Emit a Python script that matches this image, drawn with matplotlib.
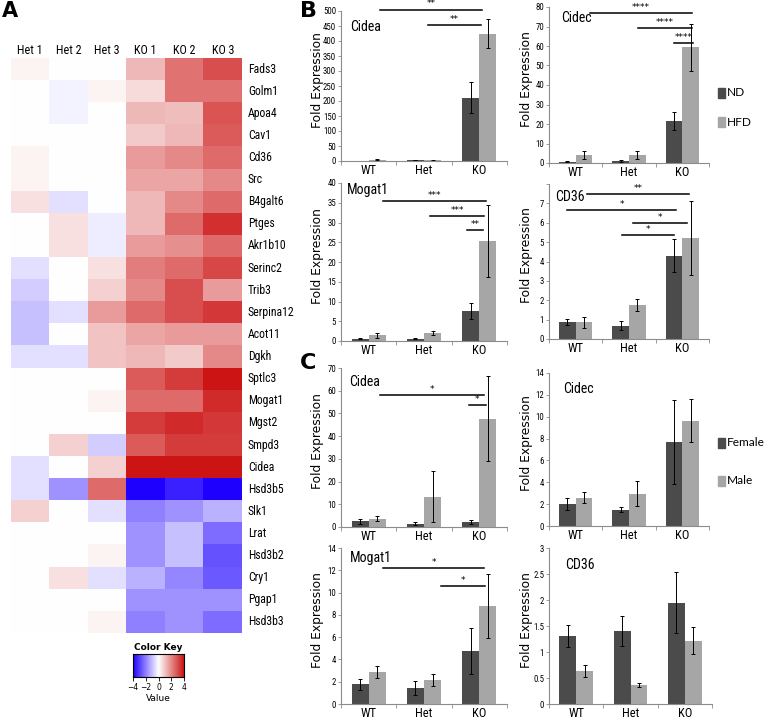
import numpy as np
import matplotlib
matplotlib.use("Agg")
import matplotlib.pyplot as plt
from matplotlib.colors import LinearSegmentedColormap

NARROW = ["Liberation Sans Narrow", "Roboto Condensed", "Liberation Sans", "DejaVu Sans"]
SOFT = ["Lato", "DejaVu Sans"]

# ---------------- data ----------------
samples = ["Het 1", "Het 2", "Het 3", "KO 1", "KO 2", "KO 3"]
genes = ["Fads3", "Golm1", "Apoa4", "Cav1", "Cd36", "Src", "B4galt6", "Ptges",
         "Akr1b10", "Serinc2", "Trib3", "Serpina12", "Acot11", "Dgkh", "Sptlc3",
         "Mogat1", "Mgst2", "Smpd3", "Cidea", "Hsd3b5", "Slk1", "Lrat", "Hsd3b2",
         "Cry1", "Pgap1", "Hsd3b3"]
heat = np.array([
    [0.2, 0.0, 0.0, 1.2, 2.4, 3.0],
    [0.0, -0.2, 0.2, 0.6, 2.4, 2.4],
    [0.0, -0.2, 0.0, 1.2, 1.1, 2.9],
    [0.0, 0.0, 0.0, 0.9, 1.2, 2.8],
    [0.2, 0.0, 0.0, 1.7, 2.0, 2.5],
    [0.2, 0.0, 0.0, 1.5, 1.5, 2.0],
    [0.5, -0.5, 0.0, 1.2, 2.0, 2.5],
    [0.0, 0.5, -0.3, 1.2, 2.5, 3.5],
    [0.0, 0.5, -0.3, 1.7, 1.9, 2.5],
    [-0.5, 0.0, 0.5, 2.2, 2.5, 3.1],
    [-0.8, 0.0, 0.8, 2.0, 3.0, 1.7],
    [-1.0, -0.5, 1.7, 2.5, 3.0, 3.4],
    [-1.0, 0.0, 1.0, 1.5, 1.7, 1.7],
    [-0.5, -0.5, 1.0, 1.2, 0.9, 2.0],
    [0.0, 0.0, 0.0, 2.8, 3.3, 4.0],
    [0.0, 0.0, 0.2, 2.5, 2.5, 3.6],
    [0.0, 0.0, 0.0, 3.3, 3.6, 3.4],
    [0.0, 0.8, -0.8, 2.8, 3.3, 3.3],
    [-0.5, 0.0, 0.8, 4.5, 4.5, 4.5],
    [-0.5, -1.7, 2.5, -4.5, -3.5, -4.5],
    [0.8, 0.0, -0.5, -2.0, -1.7, -1.2],
    [0.0, 0.0, 0.0, -1.7, -1.0, -2.3],
    [0.0, 0.0, 0.2, -1.7, -1.0, -2.7],
    [0.0, 0.5, -0.5, -1.2, -1.9, -2.6],
    [0.0, 0.0, 0.0, -1.7, -1.7, -1.7],
    [0.0, 0.0, 0.2, -2.0, -1.7, -2.3],
])

groups = ["WT", "Het", "KO"]

# panel B: ND vs HFD
b_cidea_nd, b_cidea_nd_err = [1.0, 3.0, 211], [0.5, 1.0, 52]
b_cidea_hfd, b_cidea_hfd_err = [5.0, 2.0, 424], [2.0, 1.0, 48]
b_cidec_nd, b_cidec_nd_err = [0.7, 0.8, 21.5], [0.3, 0.5, 4.5]
b_cidec_hfd, b_cidec_hfd_err = [4.0, 4.2, 59.3], [2.2, 2.0, 12.0]
b_mogat1_nd, b_mogat1_nd_err = [0.6, 0.6, 7.6], [0.2, 0.2, 2.1]
b_mogat1_hfd, b_mogat1_hfd_err = [1.4, 2.0, 25.3], [0.6, 0.5, 9.2]
b_cd36_nd, b_cd36_nd_err = [0.86, 0.69, 4.3], [0.15, 0.25, 0.86]
b_cd36_hfd, b_cd36_hfd_err = [0.86, 1.77, 5.21], [0.3, 0.3, 1.93]

# panel C: female vs male
c_cidea_f, c_cidea_f_err = [2.5, 1.5, 2.2], [1.0, 0.6, 0.8]
c_cidea_m, c_cidea_m_err = [3.7, 13.3, 47.6], [1.2, 11.3, 18.7]
c_cidec_f, c_cidec_f_err = [2.0, 1.5, 7.7], [0.52, 0.2, 3.85]
c_cidec_m, c_cidec_m_err = [2.57, 2.97, 9.63], [0.5, 1.18, 1.97]
c_mogat1_f, c_mogat1_f_err = [1.78, 1.42, 4.75], [0.5, 0.6, 2.07]
c_mogat1_m, c_mogat1_m_err = [2.85, 2.14, 8.81], [0.55, 0.56, 2.9]
c_cd36_f, c_cd36_f_err = [1.3, 1.4, 1.95], [0.21, 0.29, 0.59]
c_cd36_m, c_cd36_m_err = [0.63, 0.37, 1.22], [0.12, 0.04, 0.26]

# significance brackets: (x start, x end, y, stars)
sig_b_cidea = [(0.2, 2.05, 505, "**"), (1.07, 2.03, 454, "**")]
sig_b_cidec = [(0.27, 2.18, 77, "****"), (1.17, 2.18, 69.2, "****"), (1.85, 2.2, 61.5, "****")]
sig_b_mogat1 = [(0.26, 2.12, 35.5, "***"), (1.11, 2.09, 31.6, "***"), (1.78, 2.07, 28.1, "**")]
sig_b_cd36 = [(0.21, 2.13, 7.46, "**"), (-0.16, 1.88, 6.65, "*"), (1.08, 2.09, 5.97, "*"),
              (0.87, 1.85, 5.35, "*")]
sig_c_cidea = [(0.2, 2.09, 58.2, "*"), (1.81, 2.12, 53.5, "*")]
sig_c_mogat1 = [(0.26, 2.09, 12.2, "*"), (1.31, 2.1, 10.6, "*")]

DARK = "#4b4b4b"
LIGHT = "#a6a6a6"
AXC = "#8c8c8c"

W, H = 767, 721
fig = plt.figure(figsize=(W / 100, H / 100), dpi=100)


def rect(x0, y0, x1, y1):
    return [x0 / W, 1 - y1 / H, (x1 - x0) / W, (y1 - y0) / H]


# ---------------- A: heatmap ----------------
cmap = LinearSegmentedColormap.from_list("bwr_key", [(0.12, 0.0, 1.0), (1, 1, 1), (0.8, 0.08, 0.08)])
axh = fig.add_axes(rect(11, 58, 242, 633))
axh.imshow(heat, cmap=cmap, vmin=-4, vmax=4, aspect="auto", interpolation="nearest")
axh.axis("off")
for j, s in enumerate(samples):
    axh.text(j, -0.55, s, ha="center", va="bottom", fontsize=8.7, family=NARROW)
for i, g in enumerate(genes):
    axh.text(5.65, i, g, ha="left", va="center", fontsize=8.5, family=NARROW)
fig.text(2 / W, 1 - 11 / H, "A", fontsize=15, fontweight="bold", va="center", ha="left")

axk = fig.add_axes(rect(133, 654, 184, 677))
axk.imshow(np.linspace(-4, 4, 256)[None, :], cmap=cmap, aspect="auto",
           extent=[-4, 4, 0, 1])
axk.set_yticks([])
axk.set_xticks([-4, -2, 0, 2, 4])
axk.set_xticklabels(["\u22124", "\u22122", "0", "2", "4"], fontsize=5.5)
axk.tick_params(axis="x", length=3, width=0.6, pad=1.5)
axk.set_xlabel("Value", fontsize=6.5, labelpad=1)
axk.set_title("Color Key", fontsize=6.5, fontweight="bold", pad=3)
for sp in axk.spines.values():
    sp.set_linewidth(0.8)


# ---------------- B / C: bar charts ----------------
def bar_panel(r, title, tpos, a, a_err, b, b_err, ymax, step, sig=(), labels=None):
    ax = fig.add_axes(rect(*r))
    x = np.arange(len(groups))
    ax.bar(x - 0.155, a, 0.31, color=DARK, yerr=a_err, ecolor="black",
           error_kw=dict(elinewidth=0.7, capsize=1.5, capthick=0.7))
    ax.bar(x + 0.155, b, 0.31, color=LIGHT, yerr=b_err, ecolor="black",
           error_kw=dict(elinewidth=0.7, capsize=1.5, capthick=0.7))
    ax.set_xlim(-0.5, 2.5)
    ax.set_ylim(0, ymax)
    ticks = np.arange(0, ymax + step / 2, step)
    ax.set_yticks(ticks)
    if labels is None:
        labels = ["%g" % t for t in ticks]
    ax.set_yticklabels(labels, fontsize=6.3, family=NARROW)
    ax.set_xticks(x)
    ax.set_xticklabels(groups, fontsize=9, family=NARROW)
    ax.set_xticks([-0.5, 0.5, 1.5, 2.5], minor=True)
    ax.tick_params(axis="x", which="major", length=0, pad=2)
    ax.tick_params(axis="x", which="minor", length=3, width=0.6, color=AXC)
    ax.tick_params(axis="y", length=2.5, width=0.6, color=AXC, pad=1)
    for s in ("top", "right"):
        ax.spines[s].set_visible(False)
    for s in ("left", "bottom"):
        ax.spines[s].set_color(AXC)
        ax.spines[s].set_linewidth(0.8)
    ax.set_ylabel("Fold Expression", fontsize=8.8)
    ax.yaxis.set_label_coords(-0.1, 0.54)
    ax.text(tpos[0], tpos[1], title, transform=ax.transAxes, fontsize=10,
            family=NARROW, ha="left", va="center")
    for x0, x1, y, st in sig:
        ax.plot([x0, x1], [y, y], color="black", lw=1.1, clip_on=False)
        ax.text((x0 + x1) / 2, y + ymax * 0.008, st, ha="center", va="bottom",
                fontsize=6.5, clip_on=False)
    return ax


bar_panel((341, 11, 507, 161), "Cidea", (0.054, 0.893), b_cidea_nd, b_cidea_nd_err,
          b_cidea_hfd, b_cidea_hfd_err, 500, 50, sig_b_cidea)
bar_panel((549, 7, 709, 163), "Cidec", (0.075, 0.93), b_cidec_nd, b_cidec_nd_err,
          b_cidec_hfd, b_cidec_hfd_err, 80, 10, sig_b_cidec)
bar_panel((341, 183, 507, 341), "Mogat1", (0.036, 0.956), b_mogat1_nd, b_mogat1_nd_err,
          b_mogat1_hfd, b_mogat1_hfd_err, 40, 5, sig_b_mogat1)
bar_panel((549, 184, 709, 339), "CD36", (0.04, 0.916), b_cd36_nd, b_cd36_nd_err,
          b_cd36_hfd, b_cd36_hfd_err, 8, 1, sig_b_cd36,
          labels=["0", "1", "2", "3", "4", "5", "6", "7", ""])
bar_panel((341, 368, 507, 527), "Cidea", (0.048, 0.912), c_cidea_f, c_cidea_f_err,
          c_cidea_m, c_cidea_m_err, 70, 10, sig_c_cidea)
bar_panel((549, 373, 709, 526), "Cidec", (0.0875, 0.895), c_cidec_f, c_cidec_f_err,
          c_cidec_m, c_cidec_m_err, 14, 2)
bar_panel((341, 548, 507, 704), "Mogat1", (0.054, 0.936), c_mogat1_f, c_mogat1_f_err,
          c_mogat1_m, c_mogat1_m_err, 14, 2, sig_c_mogat1)
bar_panel((549, 548, 712, 704), "CD36", (0.1, 0.892), c_cd36_f, c_cd36_f_err,
          c_cd36_m, c_cd36_m_err, 3, 0.5)

fig.text(300 / W, 1 - 11 / H, "B", fontsize=16, fontweight="bold", va="center", ha="left")
fig.text(300 / W, 1 - 363 / H, "C", fontsize=16, fontweight="bold", va="center", ha="left")


# legends
def legend_item(x, y, color, label):
    fig.add_artist(plt.Rectangle((x / W, 1 - (y + 5) / H), 7 / W, 10 / H,
                                 transform=fig.transFigure, color=color))
    fig.text((x + 9) / W, 1 - y / H, label, fontsize=8.6, family=SOFT,
             ha="left", va="center")


legend_item(718, 93, DARK, "ND")
legend_item(718, 122, LIGHT, "HFD")
legend_item(718, 443, DARK, "Female")
legend_item(718, 481, LIGHT, "Male")

fig.savefig("out.png", dpi=100)
